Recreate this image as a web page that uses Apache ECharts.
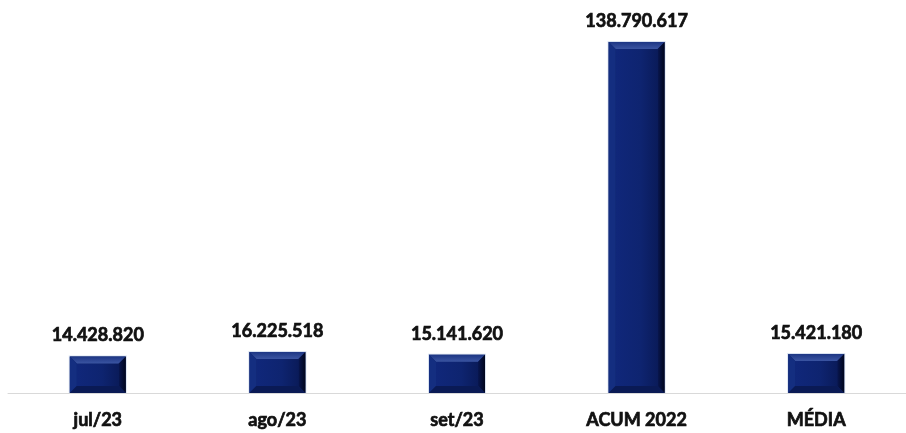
<!DOCTYPE html>
<html>
<head>
<meta charset="utf-8">
<script src="https://cdn.jsdelivr.net/npm/echarts@6/dist/echarts.min.js"></script>
<style>
html,body{margin:0;padding:0;background:#fff;}
#chart{width:906px;height:433px;}
</style>
</head>
<body>
<div id="chart"></div>
<script>
const categories = ['jul/23', 'ago/23', 'set/23', 'ACUM 2022', 'MÉDIA'];
const values = [14428820, 16225518, 15141620, 138790617, 15421180];

function fmt(v) {
  return String(v).replace(/\B(?=(\d{3})+(?!\d))/g, '.');
}

const chart = echarts.init(document.getElementById('chart'));

function renderItem(params, api) {
  const p = api.coord([api.value(0), api.value(1)]);
  const base = api.coord([api.value(0), 0]);
  const w = 56;
  const left = p[0] - w / 2, right = p[0] + w / 2, top = p[1], bottom = base[1];
  const b = Math.min(7, (bottom - top) / 3);
  const idx = params.dataIndex;
  return {
    type: 'group',
    children: [
      { type: 'rect', shape: { x: left - 1, y: top - 1, width: w + 2, height: bottom - top + 1 },
        style: { fill: 'rgba(170,190,225,0.45)' } },
      { type: 'rect', shape: { x: left, y: top, width: w, height: bottom - top },
        style: { fill: '#0e2368' } },
      { type: 'rect', shape: { x: left + b, y: top + b, width: w - 2 * b, height: bottom - top - 2 * b },
        style: { fill: new echarts.graphic.LinearGradient(0, 0, 1, 0, [
          { offset: 0, color: '#10277a' }, { offset: 0.6, color: '#0e2470' }, { offset: 1, color: '#0a1b5a' }]) } },
      { type: 'polygon', shape: { points: [[left, top], [right, top], [right - b, top + b], [left + b, top + b]] },
        style: { fill: new echarts.graphic.LinearGradient(0, 0, 0, 1, [
          { offset: 0, color: '#1d3684' }, { offset: 1, color: '#3b55a2' }]) } },
      { type: 'polygon', shape: { points: [[left, top], [left + b, top + b], [left + b, bottom - b], [left, bottom]] },
        style: { fill: '#142e80' } },
      { type: 'polygon', shape: { points: [[right, top], [right, bottom], [right - b, bottom - b], [right - b, top + b]] },
        style: { fill: new echarts.graphic.LinearGradient(0, 0, 1, 0, [
          { offset: 0, color: '#081650' }, { offset: 1, color: '#01061c' }]) } },
      { type: 'polygon', shape: { points: [[left, bottom], [right, bottom], [right - b, bottom - b], [left + b, bottom - b]] },
        style: { fill: '#0a1a55' } },
      { type: 'text', style: {
          x: p[0], y: top - 12, text: fmt(values[idx]),
          textAlign: 'center', textVerticalAlign: 'bottom',
          font: 'bold 18px Lato', fill: '#111', stroke: '#111', lineWidth: 0.7 } }
    ]
  };
}

chart.setOption({
  animation: false,
  grid: { left: 8, right: 0, top: 39, bottom: 40 },
  xAxis: {
    type: 'category',
    data: categories,
    axisTick: { show: false },
    axisLine: { lineStyle: { color: '#d9d9d9', width: 1 } },
    axisLabel: { color: '#111', fontWeight: 'bold', fontSize: 18, fontFamily: 'Lato', margin: 18,
      textBorderColor: '#111', textBorderWidth: 0.7 }
  },
  yAxis: { type: 'value', min: 0, max: 140000000, show: false, splitLine: { show: false } },
  series: [{
    type: 'custom',
    renderItem: renderItem,
    encode: { x: 0, y: 1 },
    data: values.map((v, i) => [i, v])
  }]
});
</script>
</body>
</html>
